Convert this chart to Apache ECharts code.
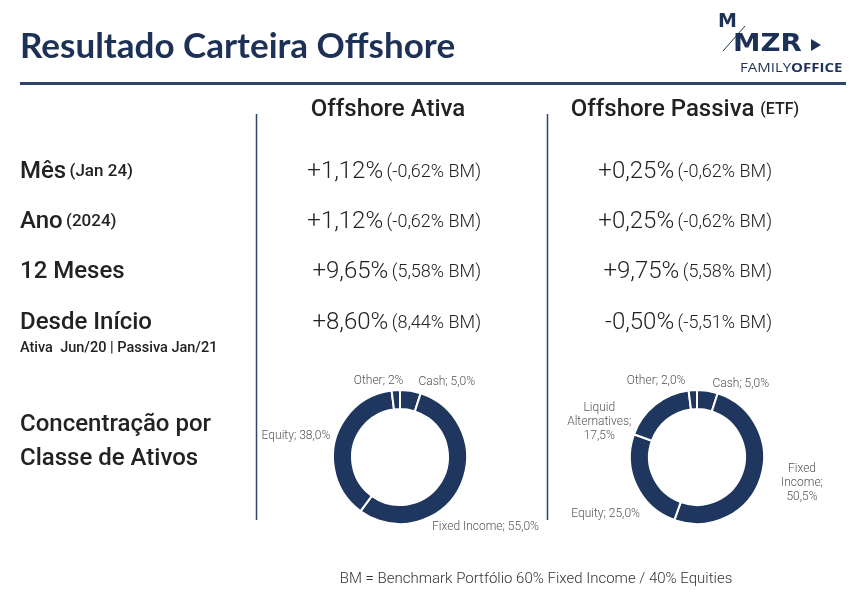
<!DOCTYPE html>
<html>
<head>
<meta charset="utf-8">
<title>Resultado Carteira Offshore</title>
<script src="https://cdn.jsdelivr.net/npm/echarts@6/dist/echarts.min.js"></script>
<style>
  html, body { margin: 0; padding: 0; background: #fff; }
  #main { width: 863px; height: 600px; }
</style>
</head>
<body>
<div id="main"></div>
<script>
// dados da tabela
var rowLabels = ['Mês', 'Ano', '12 Meses', 'Desde Início'];
var rowNotes = ['(Jan 24)', '(2024)', '', ''];
var ativaValues = ['+1,12%', '+1,12%', '+9,65%', '+8,60%'];
var ativaBM = ['(-0,62% BM)', '(-0,62% BM)', '(5,58% BM)', '(8,44% BM)'];
var passivaValues = ['+0,25%', '+0,25%', '+9,75%', '-0,50%'];
var passivaBM = ['(-0,62% BM)', '(-0,62% BM)', '(5,58% BM)', '(-5,51% BM)'];

// concentração por classe de ativos
var ativaClasses = ['Cash', 'Fixed Income', 'Equity', 'Other'];
var ativaWeights = [5.0, 55.0, 38.0, 2.0];
var ativaLabels = ['Cash; 5,0%', 'Fixed Income; 55,0%', 'Equity; 38,0%', 'Other; 2%'];

var passivaClasses = ['Cash', 'Fixed Income', 'Equity', 'Liquid Alternatives', 'Other'];
var passivaWeights = [5.0, 50.5, 25.0, 17.5, 2.0];
var passivaLabels = ['Cash; 5,0%', 'Fixed\nIncome;\n50,5%', 'Equity; 25,0%', 'Liquid\nAlternatives;\n17,5%', 'Other; 2,0%'];

// ajuste fino dos rótulos (dx, dy) por série
var labelNudge = [
    [[2, -3], [-38, 37], [6, -3], [13, -3]],
    [[-1, -1], [10, 2], [14, 26], [-15, 22], [-2, -3]]
];

var NAVY = '#1f365e';
var TEXT = '#222222';
var FONT = 'Roboto, "Noto Sans", sans-serif';

var rowY = [172, 222, 272, 323];

function buildPieData(names, values, labels) {
    var out = [];
    for (var i = 0; i < names.length; i++) {
        out.push({ name: names[i], value: values[i], labelText: labels[i] });
    }
    return out;
}

function buildGraphic() {
    var g = [];
    // título
    g.push({
        type: 'text', x: 20, y: 47,
        style: { text: 'Resultado Carteira Offshore', font: '700 35px Lato, sans-serif', fill: '#1d3157', verticalAlign: 'middle' }
    });
    // linha do título
    g.push({ type: 'rect', shape: { x: 20, y: 82, width: 826, height: 3 }, style: { fill: '#2e4468' } });

    // logo
    g.push({ type: 'text', x: 718, y: 22, style: { text: 'M', font: 'bold 19px "DejaVu Sans", sans-serif', fill: '#1d3157', verticalAlign: 'middle' } });
    g.push({ type: 'text', x: 733, y: 45, scaleX: 1.15, style: { text: 'MZR', font: 'bold 24px "DejaVu Sans", sans-serif', fill: '#1d3157', verticalAlign: 'middle' } });
    g.push({ type: 'line', shape: { x1: 723, y1: 51, x2: 745, y2: 26 }, style: { stroke: '#1d3157', lineWidth: 1 } });
    g.push({ type: 'polygon', shape: { points: [[811, 39], [811, 51], [821, 45]] }, style: { fill: '#1d3157' } });
    g.push({
        type: 'text', x: 740, y: 68, scaleX: 1.2,
        style: {
            text: '{a|FAMILY}{b|OFFICE}', verticalAlign: 'middle',
            rich: {
                a: { font: '400 12.5px "Open Sans", sans-serif', fill: '#1d3157' },
                b: { font: '700 12.5px "Open Sans", sans-serif', fill: '#1d3157' }
            }
        }
    });

    // cabeçalhos
    g.push({ type: 'text', x: 388, y: 110, style: { text: 'Offshore Ativa', font: '500 24px ' + FONT, fill: TEXT, align: 'center', verticalAlign: 'middle' } });
    g.push({
        type: 'text', x: 685, y: 110,
        style: {
            text: '{a|Offshore Passiva }{b|(ETF)}', align: 'center', verticalAlign: 'middle',
            rich: { a: { font: '500 24px ' + FONT, fill: TEXT }, b: { font: '500 16px ' + FONT, fill: TEXT } }
        }
    });

    // linhas verticais
    g.push({ type: 'line', shape: { x1: 256.5, y1: 114, x2: 256.5, y2: 520 }, style: { stroke: '#2e4468', lineWidth: 1.5 } });
    g.push({ type: 'line', shape: { x1: 547.5, y1: 114, x2: 547.5, y2: 520 }, style: { stroke: '#2e4468', lineWidth: 1.5 } });

    for (var i = 0; i < rowLabels.length; i++) {
        g.push({
            type: 'text', x: 20, y: rowY[i],
            style: {
                text: '{a|' + rowLabels[i] + '}' + (rowNotes[i] ? ' {b|' + rowNotes[i] + '}' : ''),
                verticalAlign: 'middle',
                rich: { a: { font: '500 24px ' + FONT, fill: TEXT }, b: { font: '500 17px ' + FONT, fill: TEXT } }
            }
        });
        g.push({
            type: 'text', x: 481, y: rowY[i],
            style: {
                text: '{a|' + ativaValues[i] + '} {b|' + ativaBM[i] + '}', align: 'right', verticalAlign: 'middle',
                rich: { a: { font: '300 24px ' + FONT, fill: TEXT }, b: { font: '300 18px ' + FONT, fill: TEXT } }
            }
        });
        g.push({
            type: 'text', x: 772, y: rowY[i],
            style: {
                text: '{a|' + passivaValues[i] + '} {b|' + passivaBM[i] + '}', align: 'right', verticalAlign: 'middle',
                rich: { a: { font: '300 24px ' + FONT, fill: TEXT }, b: { font: '300 18px ' + FONT, fill: TEXT } }
            }
        });
    }
    g.push({ type: 'text', x: 20, y: 348, style: { text: 'Ativa  Jun/20 | Passiva Jan/21', font: '500 14.5px ' + FONT, fill: TEXT, verticalAlign: 'middle' } });

    g.push({ type: 'text', x: 20, y: 425, style: { text: 'Concentração por', font: '500 24px ' + FONT, fill: TEXT, verticalAlign: 'middle' } });
    g.push({ type: 'text', x: 20, y: 459, style: { text: 'Classe de Ativos', font: '500 24px ' + FONT, fill: TEXT, verticalAlign: 'middle' } });

    g.push({
        type: 'text', x: 536, y: 579,
        style: { text: 'BM = Benchmark Portfólio 60% Fixed Income / 40% Equities', font: '300 15px ' + FONT, fill: '#333', align: 'center', verticalAlign: 'middle' }
    });
    return g;
}

function pieSeries(idx, center, data) {
    return {
        type: 'pie',
        center: center,
        radius: [48, 67],
        startAngle: 90,
        clockwise: true,
        avoidLabelOverlap: false,
        silent: true,
        color: [NAVY],
        itemStyle: { color: NAVY, borderColor: '#fff', borderWidth: 2 },
        label: {
            show: true,
            position: 'outside',
            fontFamily: FONT,
            fontWeight: 300,
            fontSize: 12,
            lineHeight: 14,
            color: '#555',
            formatter: function (p) {
                var parts = p.data.labelText.split('\n');
                return parts.map(function (s) { return '{c|' + s + '}'; }).join('\n');
            },
            rich: {
                c: { align: 'center', fontFamily: FONT, fontWeight: 300, fontSize: 12, lineHeight: 14, color: '#555' }
            }
        },
        labelLine: { show: false, length: 6, length2: 0 },
        labelLayout: function (params) {
            var n = labelNudge[idx][params.dataIndex];
            return { dx: n[0], dy: n[1], hideOverlap: false };
        },
        data: data
    };
}

var myChart = echarts.init(document.getElementById('main'));
myChart.setOption({
    animation: false,
    graphic: buildGraphic(),
    series: [
        pieSeries(0, [400, 457], buildPieData(ativaClasses, ativaWeights, ativaLabels)),
        pieSeries(1, [697, 457], buildPieData(passivaClasses, passivaWeights, passivaLabels))
    ]
});
</script>
</body>
</html>
